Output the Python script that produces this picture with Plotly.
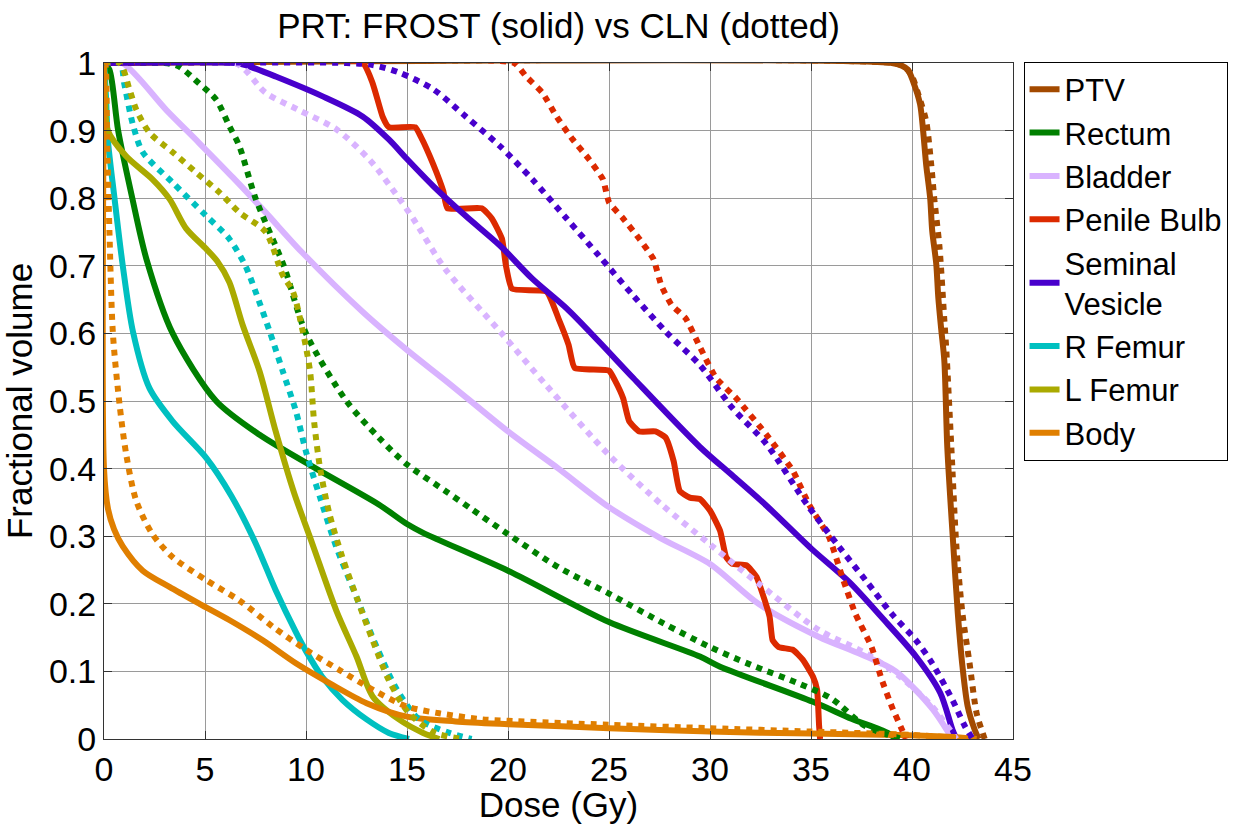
import plotly.graph_objects as go

# ---- dose-volume histogram data (dose in Gy, fractional volume) ----
structures = ["PTV", "Rectum", "Bladder", "Penile Bulb", "Seminal<br>Vesicle",
              "R Femur", "L Femur", "Body"]
colors = ["#A34A00", "#008000", "#D9B3FF", "#DC2A00", "#4800CC",
          "#00C0C0", "#AAAA00", "#E07F00"]

# FROST plan (solid)
ptv_frost_dose = [0, 39.0, 39.5, 39.8, 40.05, 40.4, 40.55, 40.7, 40.9, 41.0, 41.2, 41.3,
                  41.45, 41.6, 41.75, 42.05, 42.27, 42.5, 42.76, 43.1, 43.3]
ptv_frost_vol = [1, 1, 0.996, 0.99, 0.973, 0.939, 0.9, 0.85, 0.80, 0.752, 0.703, 0.654,
                 0.605, 0.56, 0.43, 0.284, 0.185, 0.107, 0.048, 0.014, 0]

rectum_frost_dose = [0, 0.27, 0.7, 1.4, 2.1, 3.4, 5.55, 7.7, 10.5, 13.6, 15.0, 15.8,
                     20.0, 25.0, 29.5, 30.5, 35.1, 37.0, 38.8, 39.2]
rectum_frost_vol = [1, 0.99, 0.9, 0.8, 0.71, 0.6, 0.5, 0.45, 0.4, 0.347, 0.318, 0.305,
                    0.249, 0.173, 0.122, 0.107, 0.055, 0.03, 0.009, 0]

bladder_frost_dose = [0, 0.9, 3.1, 4.7, 6.4, 8.0, 9.8, 12.8, 15.1, 17.0, 20.0, 22.5,
                      25.0, 27.5, 30.0, 32.4, 35.4, 37.5, 39.2, 41.0, 42.0]
bladder_frost_vol = [1, 1, 0.93, 0.882, 0.83, 0.779, 0.72, 0.632, 0.573, 0.528, 0.455, 0.40,
                     0.343, 0.298, 0.259, 0.2, 0.151, 0.125, 0.1, 0.045, 0]

bulb_frost_dose = [0, 12.8, 13.3, 13.8, 14.1, 15.4, 15.7, 16.3, 16.8, 17.0, 18.7, 19.2,
                   19.7, 19.9, 20.2, 21.9, 22.5, 23.0, 23.3, 25.0, 25.3, 25.7, 26.0, 26.5,
                   27.3, 27.8, 28.2, 28.5, 29.0, 29.5, 30.0, 30.5, 30.8, 31.1, 31.8, 32.3,
                   32.6, 32.95, 33.1, 33.4, 34.1, 34.6, 35.1, 35.3, 35.4, 35.45]
bulb_frost_vol = [1, 1, 0.97, 0.92, 0.905, 0.905, 0.89, 0.85, 0.81, 0.785, 0.785, 0.77,
                  0.74, 0.70, 0.666, 0.662, 0.622, 0.583, 0.549, 0.545, 0.53, 0.504, 0.47,
                  0.455, 0.455, 0.446, 0.411, 0.367, 0.357, 0.355, 0.338, 0.308, 0.269,
                  0.259, 0.257, 0.24, 0.215, 0.181, 0.146, 0.136, 0.132, 0.117, 0.092,
                  0.073, 0.02, 0]

sv_frost_dose = [0, 6.5, 7.0, 8.5, 10.8, 12.8, 14.1, 15.0, 16.3, 17.9, 19.6, 21.2, 22.9,
                 24.5, 26.2, 29.5, 31.1, 32.8, 35.0, 36.9, 38.5, 40.2, 41.4, 42.0, 42.2]
sv_frost_vol = [1, 1, 0.997, 0.98, 0.951, 0.921, 0.887, 0.858, 0.818, 0.774, 0.73, 0.681,
                0.637, 0.588, 0.534, 0.432, 0.39, 0.345, 0.282, 0.232, 0.18, 0.122, 0.068,
                0.014, 0]

rfem_frost_dose = [0, 0.1, 0.19, 0.52, 0.93, 1.43, 2.25, 3.4, 5.06, 6.3, 7.5, 8.5, 9.5,
                   10.0, 10.8, 11.8, 13.0, 14.1, 15.1]
rfem_frost_vol = [1, 0.95, 0.887, 0.8, 0.7, 0.603, 0.519, 0.47, 0.416, 0.36, 0.29, 0.22,
                  0.158, 0.13, 0.092, 0.058, 0.029, 0.009, 0]

lfem_frost_dose = [0, 0.05, 0.19, 1.1, 2.4, 3.24, 4.07, 5.06, 5.6, 6.2, 6.87, 7.7, 8.5,
                   9.4, 10.3, 11.5, 12.5, 13.3, 14.6, 15.8, 16.6]
lfem_frost_vol = [1, 0.95, 0.9, 0.862, 0.828, 0.799, 0.755, 0.725, 0.707, 0.676, 0.612,
                  0.544, 0.455, 0.365, 0.29, 0.19, 0.122, 0.063, 0.029, 0.009, 0]

body_frost_dose = [0, 0, 0.2, 0.5, 0.93, 1.92, 3.24, 4.73, 6.2, 7.86, 9.5, 11.2, 13.0,
                   15.0, 17.4, 20.0, 25.0, 30.0, 35.0, 39.4, 42.0, 43.2]
body_frost_vol = [1, 0.40, 0.34, 0.31, 0.285, 0.249, 0.225, 0.2, 0.176, 0.146, 0.112,
                  0.082, 0.053, 0.033, 0.026, 0.022, 0.016, 0.011, 0.008, 0.006, 0.003, 0]

# CLN plan (dotted)
ptv_cln_dose = [0, 39.0, 39.6, 40.0, 40.35, 40.7, 40.95, 41.1, 41.36, 41.6, 41.7, 41.95,
                42.2, 42.5, 42.85, 43.2, 43.5, 43.6]
ptv_cln_vol = [1, 1, 0.995, 0.98, 0.95, 0.914, 0.85, 0.80, 0.728, 0.62, 0.575, 0.43,
               0.284, 0.185, 0.112, 0.038, 0.009, 0]

rectum_cln_dose = [0, 3.0, 3.7, 4.7, 5.55, 6.2, 6.7, 7.5, 8.9, 10.0, 12.0, 13.6, 15.0,
                   16.9, 18.2, 20.0, 22.5, 25.0, 27.7, 30.0, 32.0, 34.4, 36.0, 37.7, 39.5]
rectum_cln_vol = [1, 1, 0.995, 0.97, 0.946, 0.907, 0.877, 0.8, 0.7, 0.6, 0.5, 0.446,
                  0.406, 0.367, 0.34, 0.303, 0.254, 0.215, 0.171, 0.136, 0.11, 0.082,
                  0.06, 0.019, 0]

bladder_cln_dose = [0, 6.5, 8.0, 9.6, 11.5, 13.2, 14.6, 15.3, 16.9, 19.6, 21.9, 25.0,
                    27.6, 30.0, 32.4, 35.4, 37.7, 39.5, 41.0, 42.2]
bladder_cln_vol = [1, 1, 0.956, 0.931, 0.902, 0.855, 0.8, 0.77, 0.695, 0.603, 0.523, 0.42,
                   0.347, 0.288, 0.23, 0.161, 0.127, 0.09, 0.048, 0]

bulb_cln_dose = [0, 20.3, 20.9, 21.7, 22.4, 23.2, 24.0, 24.7, 25.0, 25.7, 26.5, 27.2,
                 27.6, 28.1, 28.8, 29.5, 30.3, 31.3, 32.8, 34.1, 34.9, 35.9, 36.6, 37.2,
                 38.0, 38.5, 39.0, 39.5, 39.7]
bulb_cln_vol = [1, 1, 0.98, 0.956, 0.921, 0.887, 0.858, 0.828, 0.794, 0.77, 0.74, 0.71,
                0.67, 0.642, 0.622, 0.58, 0.534, 0.504, 0.45, 0.397, 0.347, 0.298, 0.235,
                0.185, 0.136, 0.088, 0.048, 0.014, 0]

sv_cln_dose = [0, 12.0, 13.3, 14.6, 16.3, 17.9, 19.6, 21.2, 22.9, 24.5, 26.2, 27.8, 29.5,
               31.1, 32.8, 34.8, 36.4, 37.7, 39.0, 40.2, 41.0, 42.0, 42.6, 43.0]
sv_cln_vol = [1, 1, 0.997, 0.986, 0.961, 0.921, 0.877, 0.828, 0.77, 0.715, 0.656, 0.603,
              0.553, 0.49, 0.436, 0.347, 0.284, 0.235, 0.185, 0.146, 0.112, 0.058, 0.02, 0]

rfem_cln_dose = [0, 0.8, 1.0, 1.43, 1.92, 3.4, 5.06, 6.2, 7.0, 7.5, 8.2, 8.85, 9.5, 10.0,
                 10.7, 11.5, 12.5, 13.5, 14.5, 15.6, 17.1, 18.2]
rfem_cln_vol = [1, 1, 0.97, 0.909, 0.868, 0.823, 0.774, 0.74, 0.70, 0.662, 0.603, 0.544,
                0.485, 0.425, 0.357, 0.284, 0.21, 0.136, 0.073, 0.029, 0.009, 0]

lfem_cln_dose = [0, 0.77, 1.26, 1.6, 2.25, 3.4, 4.56, 5.7, 6.7, 8.0, 8.85, 9.35, 9.84,
                 10.2, 10.4, 10.7, 11.16, 11.8, 12.5, 13.3, 14.1, 15.1, 16.4, 17.8]
lfem_cln_vol = [1, 1, 0.961, 0.931, 0.897, 0.868, 0.838, 0.809, 0.779, 0.75, 0.686,
                0.662, 0.603, 0.544, 0.47, 0.40, 0.333, 0.269, 0.21, 0.146, 0.087, 0.038,
                0.009, 0]

body_cln_dose = [0, 0.05, 0.15, 0.27, 0.44, 0.77, 1.1, 1.6, 2.4, 3.4, 5.06, 6.7, 8.36,
                 10.0, 11.66, 13.3, 15.0, 16.6, 18.75, 20.0, 25.0, 30.0, 35.0, 40.0, 43.0]
body_cln_vol = [1, 1, 0.89, 0.75, 0.6, 0.495, 0.421, 0.352, 0.303, 0.269, 0.235, 0.205,
                0.166, 0.132, 0.102, 0.073, 0.048, 0.038, 0.029, 0.027, 0.021, 0.016,
                0.011, 0.006, 0]

frost = [(ptv_frost_dose, ptv_frost_vol), (rectum_frost_dose, rectum_frost_vol),
         (bladder_frost_dose, bladder_frost_vol), (bulb_frost_dose, bulb_frost_vol),
         (sv_frost_dose, sv_frost_vol), (rfem_frost_dose, rfem_frost_vol),
         (lfem_frost_dose, lfem_frost_vol), (body_frost_dose, body_frost_vol)]
cln = [(ptv_cln_dose, ptv_cln_vol), (rectum_cln_dose, rectum_cln_vol),
       (bladder_cln_dose, bladder_cln_vol), (bulb_cln_dose, bulb_cln_vol),
       (sv_cln_dose, sv_cln_vol), (rfem_cln_dose, rfem_cln_vol),
       (lfem_cln_dose, lfem_cln_vol), (body_cln_dose, body_cln_vol)]

# the stepped penile-bulb curve gets gentler smoothing than the rest
smoothing = [0.8, 0.8, 0.8, 0.45, 0.8, 0.8, 0.8, 0.8]

x_ticks = [0, 5, 10, 15, 20, 25, 30, 35, 40, 45]
y_ticks = [0, 0.1, 0.2, 0.3, 0.4, 0.5, 0.6, 0.7, 0.8, 0.9, 1]
y_tick_text = ["0", "0.1", "0.2", "0.3", "0.4", "0.5", "0.6", "0.7", "0.8", "0.9", "1"]

FONT = "Liberation Sans, Arial, sans-serif"

fig = go.Figure()

# solid curves first, then the dotted ones drawn on top
for name, color, sm, (d, v) in zip(structures, colors, smoothing, frost):
    fig.add_trace(go.Scatter(x=d, y=v, mode="lines", name=name, legendgroup=name,
                             line=dict(color=color, width=6, shape="spline",
                                       smoothing=sm)))
for name, color, sm, (d, v) in zip(structures, colors, smoothing, cln):
    fig.add_trace(go.Scatter(x=d, y=v, mode="lines", name=name, legendgroup=name,
                             showlegend=False,
                             line=dict(color=color, width=6, dash="dot",
                                       shape="spline", smoothing=sm)))

axis_common = dict(
    showgrid=True, gridcolor="#9a9a9a", gridwidth=1,
    showline=True, linecolor="#333333", linewidth=1, mirror="allticks",
    ticks="inside", ticklen=8, tickcolor="#333333",
    zeroline=False,
    tickfont=dict(family=FONT, size=34, color="black"),
)

fig.update_layout(
    width=1258, height=824,
    margin=dict(l=104, r=245, t=63, b=81),
    paper_bgcolor="white", plot_bgcolor="white",
    font=dict(family=FONT, color="black"),
    title=dict(text="PRT: FROST (solid) vs CLN (dotted)", x=0.5, xref="paper",
               y=1 - 26 / 824, yref="container", yanchor="middle",
               font=dict(family=FONT, size=35, color="black")),
    xaxis=dict(range=[0, 45], tickvals=x_ticks,
               title=dict(text="Dose (Gy)", font=dict(family=FONT, size=35), standoff=0),
               **axis_common),
    yaxis=dict(range=[0, 1], tickvals=y_ticks, ticktext=y_tick_text,
               title=dict(text="Fractional volume", font=dict(family=FONT, size=35),
                          standoff=6),
               **axis_common),
    legend=dict(x=1.0116, y=1.002, xanchor="left", yanchor="top",
                bordercolor="black", borderwidth=1, bgcolor="white",
                font=dict(family=FONT, size=31, color="black"),
                tracegroupgap=0, itemwidth=30),
    showlegend=True,
)

fig.write_html("out.html")
